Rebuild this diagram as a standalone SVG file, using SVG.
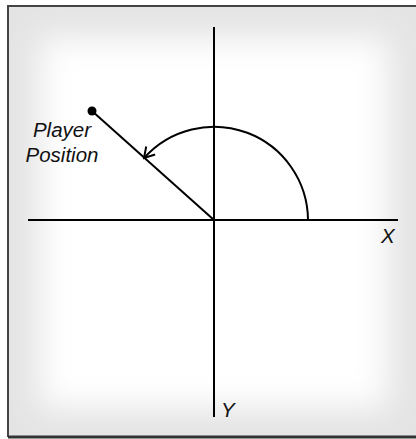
<svg xmlns="http://www.w3.org/2000/svg" width="416" height="439" viewBox="0 0 416 439">
<style>
.ax{stroke:#000;stroke-width:2;fill:none}
.lbl{font-family:"Liberation Sans",Arial,sans-serif;font-style:italic;fill:#111;font-size:20.5px}
</style>
<defs>
<filter id="blur" x="-20%" y="-20%" width="140%" height="140%"><feGaussianBlur stdDeviation="16"/></filter>
<clipPath id="clip"><rect x="8" y="6" width="408" height="431"/></clipPath>
<marker id="arr" markerWidth="14" markerHeight="14" refX="12" refY="7" orient="auto" markerUnits="userSpaceOnUse">
<path d="M2,1 L12,7 L2,13" fill="none" stroke="#000" stroke-width="2"/>
</marker>
</defs>
<rect x="0" y="0" width="416" height="439" fill="#fff"/>
<g id="frame">
<rect x="8" y="6" width="408" height="431" fill="#e4e4e4"/>
<g clip-path="url(#clip)"><rect x="40" y="38" width="348" height="370" fill="#fff" filter="url(#blur)"/></g>
<path d="M8,437 L8,6 L416,6" fill="none" stroke="#444" stroke-width="2"/>
<path d="M8,437 L416,437" fill="none" stroke="#333" stroke-width="3"/>
</g>
<g id="connectors">
<line class="ax" x1="28" y1="220" x2="398" y2="220"/>
<line class="ax" x1="214" y1="27" x2="214" y2="417"/>
<line class="ax" x1="214" y1="220" x2="92" y2="111"/>
<path class="ax" d="M308,220 A94,94 0 0 0 144,158" marker-end="url(#arr)"/>
</g>
<g id="player">
<circle cx="92" cy="111" r="4.5" fill="#000"/>
<text class="lbl" x="62" y="137" text-anchor="middle">Player</text>
<text class="lbl" x="62" y="162" text-anchor="middle">Position</text>
</g>
<g id="xlabel"><text class="lbl" x="381" y="243">X</text></g>
<g id="ylabel"><text class="lbl" x="221" y="417">Y</text></g>
</svg>
